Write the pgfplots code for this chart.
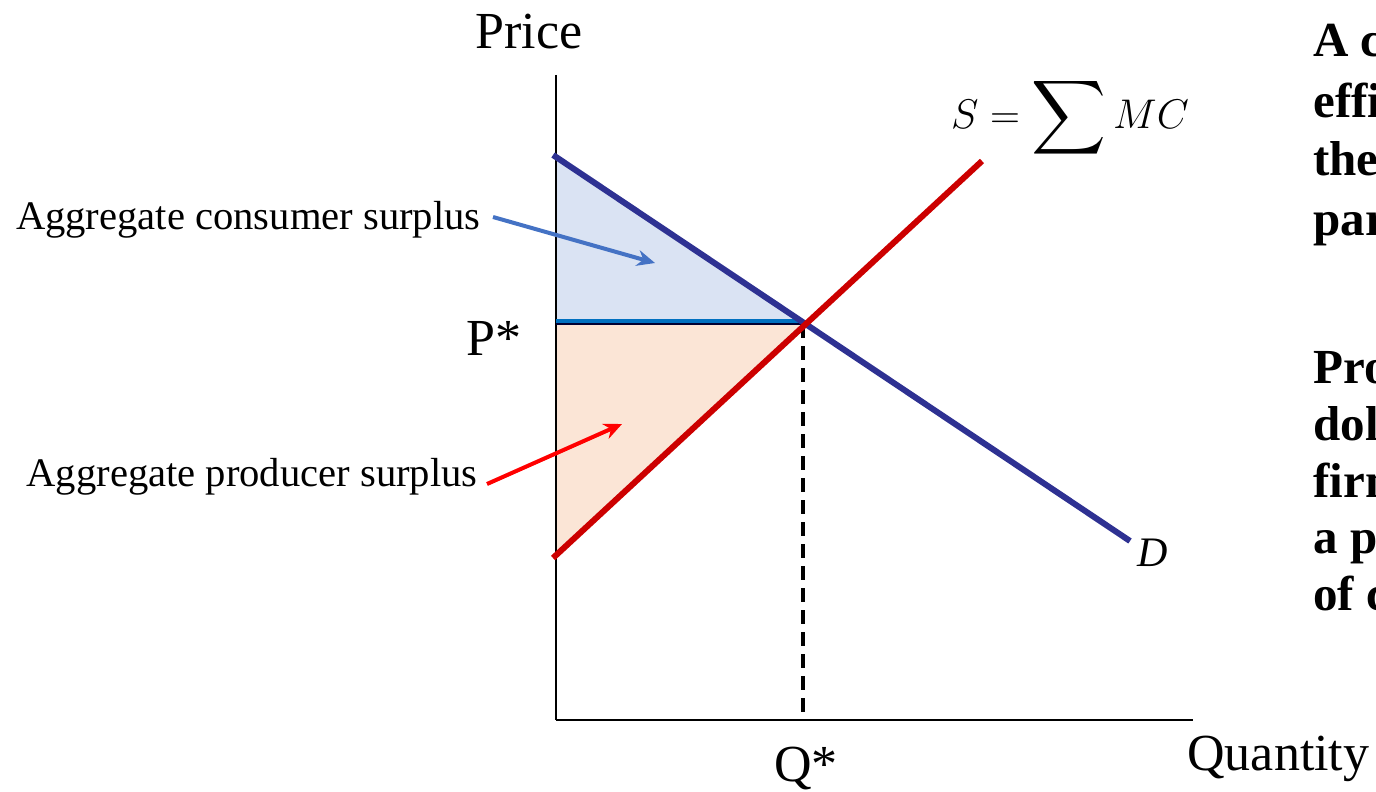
\documentclass[border=0pt]{standalone}
\usepackage{fontspec}
\setmainfont{Liberation Serif}
\usepackage{exscale}
\usepackage{graphicx}
\usepackage{pgfplots}
\pgfplotsset{compat=1.18}
\usetikzlibrary{arrows.meta}
\definecolor{dblue}{RGB}{46,49,146}
\definecolor{sred}{RGB}{204,0,0}
\definecolor{csfill}{RGB}{218,227,243}
\definecolor{psfill}{RGB}{251,229,214}
\definecolor{pline}{RGB}{0,112,192}
\definecolor{csarrow}{RGB}{68,114,196}
\tikzset{rt/.style={anchor=base west, font=\fontsize{24.5}{29}\selectfont\bfseries, inner sep=0pt}}
\begin{document}
\begin{tikzpicture}
\clip (0,0) rectangle (688pt,396pt);
\begin{axis}[at={(0,0)}, anchor=south west,
  scale only axis, width=688pt, height=396pt,
  xmin=0, xmax=1376, ymin=0, ymax=792, y dir=reverse,
  hide axis, clip=false]
% surplus areas
\addplot[fill=csfill, draw=none] coordinates {(556,155) (803,322) (556,322) (556,155)};
\addplot[fill=psfill, draw=none] coordinates {(556,322) (803,322) (556,558) (556,322)};
% axes
\addplot[black, line width=0.8pt] coordinates {(556,75) (556,720)};
\addplot[black, line width=0.8pt] coordinates {(556,720) (1193,720)};
% P* line
\addplot[black!80!blue, line width=0.9pt] coordinates {(556,324) (803,324)};
\addplot[pline, line width=2.2pt] coordinates {(556,321) (803,321)};
% dashed Q*
\addplot[black, line width=2pt, dash pattern=on 7pt off 4pt] coordinates {(803,324) (803,720)};
% demand & supply
\addplot[dblue, line width=3pt] coordinates {(553,155) (1130,541)};
\addplot[sred, line width=3pt] coordinates {(553,558) (982,161)};
% arrows
\addplot[csarrow, line width=2pt, -{Stealth[length=9pt,width=8pt]}] coordinates {(493,217) (655,263)};
\addplot[red, line width=2pt, -{Stealth[length=9pt,width=8pt]}] coordinates {(487,484) (622,424)};
% labels
\node[anchor=base, font=\fontsize{26}{30}\selectfont, inner sep=0pt] at (axis cs:529,49) {Price};
\node[anchor=base west, font=\fontsize{26}{30}\selectfont, inner sep=0pt] at (axis cs:1187,770) {Quantity};
\node[anchor=base, font=\fontsize{26}{30}\selectfont, inner sep=0pt] at (axis cs:806,781) {Q*};
\node[anchor=base east, font=\fontsize{26}{30}\selectfont, inner sep=0pt] at (axis cs:522,355) {P*};
\node[anchor=base east, font=\fontsize{20.3}{24}\selectfont, inner sep=0pt] at (axis cs:481,229) {Aggregate consumer surplus};
\node[anchor=base east, font=\fontsize{20.3}{24}\selectfont, inner sep=0pt] at (axis cs:478,486) {Aggregate producer surplus};
\node[anchor=base, font=\fontsize{21}{25}\selectfont, inner sep=0pt] at (axis cs:1070,128) {$S=\mathop{\vcenter{\hbox{\scalebox{1.25}{$\displaystyle\sum$}}}}MC$};
\node[anchor=base, font=\fontsize{21}{25}\selectfont\itshape, inner sep=0pt] at (axis cs:1153,566) {D};
% right-hand text (cut off at the edge)
\node[rt] at (axis cs:1313,57) {A competitive market};
\node[rt] at (axis cs:1313,118) {efficient: it maximizes};
\node[rt] at (axis cs:1313,176) {the total surplus of};
\node[rt] at (axis cs:1313,235) {participants.};
\node[rt] at (axis cs:1313,383) {Producer surplus is the};
\node[rt] at (axis cs:1313,440) {dollar value that};
\node[rt] at (axis cs:1313,497) {firms receive above};
\node[rt] at (axis cs:1313,553) {a price in excess};
\node[rt] at (axis cs:1313,610) {of cost.};
\end{axis}
\end{tikzpicture}
\end{document}
